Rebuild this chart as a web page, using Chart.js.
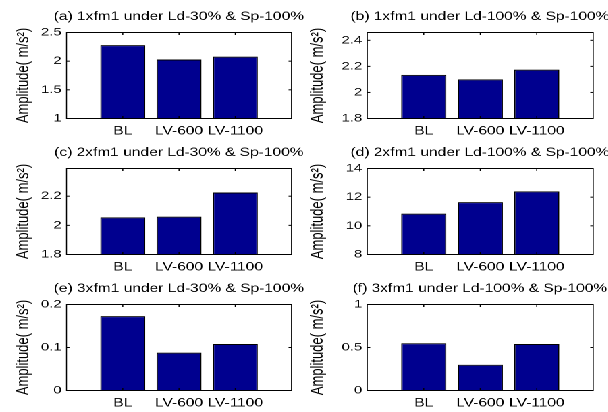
<!DOCTYPE html>
<html>
<head>
<meta charset="utf-8">
<script src="https://cdn.jsdelivr.net/npm/chart.js@4.4.1/dist/chart.umd.min.js"></script>
<style>
html, body { margin: 0; padding: 0; background: #fff; }
#fig { position: relative; width: 608px; height: 412px; overflow: hidden; background: #fff; }
#sheet { position: absolute; left: 0; top: 0; height: 412px; transform-origin: 0 0; }
#sheet canvas { position: absolute; }
</style>
</head>
<body>
<div id="fig"><div id="sheet"></div></div>
<script>
// data
const categories = ['BL', 'LV-600', 'LV-1100'];
const xPositions = [1, 2, 3];

const titles = [
    '(a) 1xfm1 under Ld-30% & Sp-100%',
    '(b) 1xfm1 under Ld-100% & Sp-100%',
    '(c) 2xfm1 under Ld-30% & Sp-100%',
    '(d) 2xfm1 under Ld-100% & Sp-100%',
    '(e) 3xfm1 under Ld-30% & Sp-100%',
    '(f) 3xfm1 under Ld-100% & Sp-100%'
];

const valuesA = [2.28, 2.03, 2.08];
const valuesB = [2.135, 2.10, 2.175];
const valuesC = [2.055, 2.06, 2.225];
const valuesD = [10.85, 11.65, 12.4];
const valuesE = [0.173, 0.088, 0.108];
const valuesF = [0.55, 0.30, 0.54];

const yTicksA = [1, 1.5, 2, 2.5];
const yTicksB = [1.8, 2, 2.2, 2.4];
const yTicksC = [1.8, 2, 2.2];
const yTicksD = [8, 10, 12, 14];
const yTicksE = [0, 0.1, 0.2];
const yTicksF = [0, 0.5, 1];

const yLimA = [1, 2.5];
const yLimB = [1.8, 2.46];
const yLimC = [1.8, 2.39];
const yLimD = [8, 14];
const yLimE = [0, 0.2];
const yLimF = [0, 1];

const yLabel = 'Amplitude( m/s²)';

const panels = [
    { values: valuesA, ticks: yTicksA, lim: yLimA },
    { values: valuesB, ticks: yTicksB, lim: yLimB },
    { values: valuesC, ticks: yTicksC, lim: yLimC },
    { values: valuesD, ticks: yTicksD, lim: yLimD },
    { values: valuesE, ticks: yTicksE, lim: yLimE },
    { values: valuesF, ticks: yTicksF, lim: yLimF }
];

// layout (figure text is wide, so the sheet is drawn narrow and stretched)
const S = 1.35;
const colLeft = [0, 304];
const axLeft = [66.5, 367.5];
const axRight = [291.5, 593.5];
const ylabelPad = [9.5, 2.5];
const rowTop = [32.5, 168.5, 304.5];
const plotH = 86;
const canvasH = 140;
const titleH = 32.5;

Chart.defaults.font.family = '"Liberation Sans", Arial, sans-serif';
Chart.defaults.color = '#000';

// axes box with inward ticks on all four sides
const boxPlugin = {
    id: 'matlabBox',
    afterDraw(chart) {
        const { ctx, chartArea: a, scales } = chart;
        const v = 1 / S;
        ctx.save();
        ctx.fillStyle = '#000';
        ctx.fillRect(a.left, a.top - 0.5, a.right - a.left, 1);
        ctx.fillRect(a.left, a.bottom - 0.5, a.right - a.left, 1);
        ctx.fillRect(a.left - v / 2, a.top - 0.5, v, a.bottom - a.top + 1);
        ctx.fillRect(a.right - v / 2, a.top - 0.5, v, a.bottom - a.top + 1);
        scales.y.ticks.forEach(t => {
            const py = scales.y.getPixelForValue(t.value);
            ctx.fillRect(a.left, py - 0.5, 2.2, 1);
            ctx.fillRect(a.right - 2.2, py - 0.5, 2.2, 1);
        });
        scales.x.ticks.forEach(t => {
            const px = scales.x.getPixelForValue(t.value);
            ctx.fillRect(px - v / 2, a.bottom - 2.5, v, 2.5);
            ctx.fillRect(px - v / 2, a.top, v, 2.5);
        });
        ctx.restore();
    }
};

const sheet = document.getElementById('sheet');
sheet.style.width = (608 / S) + 'px';
sheet.style.transform = 'scaleX(' + S + ')';

panels.forEach((p, i) => {
    const col = i % 2;
    const row = Math.floor(i / 2);
    const left = colLeft[col] / S;
    const axL = axLeft[col] / S;
    const axR = axRight[col] / S;
    const width = Math.round(2 * ((axL + axR) / 2 - left));
    const yW = axL - left;
    const y2W = left + width - axR;

    const canvas = document.createElement('canvas');
    canvas.width = width;
    canvas.height = canvasH;
    canvas.style.left = left + 'px';
    canvas.style.top = (rowTop[row] - titleH) + 'px';
    sheet.appendChild(canvas);

    const noGrid = { display: false, drawTicks: false };
    const noBorder = { display: false };
    const yTickSet = s => { s.ticks = p.ticks.map(v => ({ value: v })); };
    const xTickSet = s => { s.ticks = xPositions.map(v => ({ value: v })); };

    new Chart(canvas, {
        type: 'bar',
        data: {
            datasets: [{
                data: categories.map((c, k) => ({ x: xPositions[k], y: p.values[k] })),
                backgroundColor: '#00008F',
                borderColor: '#000',
                borderWidth: 1,
                base: p.lim[0],
                categoryPercentage: 0.8,
                barPercentage: 1
            }]
        },
        options: {
            responsive: false,
            animation: false,
            devicePixelRatio: 2,
            layout: { padding: 0 },
            plugins: {
                legend: { display: false },
                tooltip: { enabled: false },
                title: {
                    display: true,
                    text: titles[i],
                    color: '#000',
                    font: { size: 11.5, weight: 'normal' },
                    padding: { top: 10, bottom: titleH - 10 - 11.5 * 1.2 }
                }
            },
            scales: {
                x: {
                    type: 'linear', position: 'bottom', min: 0, max: 4, offset: false,
                    afterBuildTicks: xTickSet,
                    ticks: {
                        callback: v => categories[xPositions.indexOf(v)],
                        autoSkip: false, maxRotation: 0, minRotation: 0,
                        padding: 6, font: { size: 11.5 }
                    },
                    grid: noGrid,
                    border: noBorder,
                    afterFit: s => { s.height = canvasH - titleH - plotH; }
                },
                y: {
                    type: 'linear', position: 'left', min: p.lim[0], max: p.lim[1],
                    afterBuildTicks: yTickSet,
                    ticks: { callback: v => String(v), padding: 3.7, font: { size: 11 } },
                    grid: noGrid,
                    border: noBorder,
                    title: {
                        display: true, text: yLabel, color: '#000',
                        font: { size: 13 }, padding: { top: ylabelPad[col], bottom: 0 }
                    },
                    afterFit: s => { s.width = yW; }
                },
                // empty right-hand axis keeps the plot clear of the canvas edge
                y2: {
                    type: 'linear', position: 'right', min: p.lim[0], max: p.lim[1],
                    ticks: { display: false },
                    grid: noGrid,
                    border: noBorder,
                    afterFit: s => { s.width = y2W; }
                }
            }
        },
        plugins: [boxPlugin]
    });
});
</script>
</body>
</html>
